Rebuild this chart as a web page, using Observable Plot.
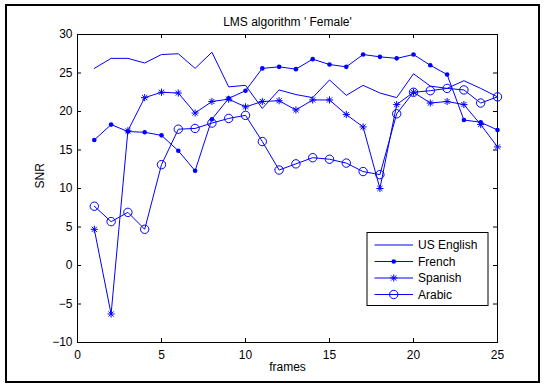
<!DOCTYPE html>
<html>
<head>
<meta charset="utf-8">
<script src="https://cdn.jsdelivr.net/npm/d3@7"></script>
<script src="https://cdn.jsdelivr.net/npm/@observablehq/plot@0.6"></script>
<style>
  html, body { margin: 0; padding: 0; background: #fff; }
  svg { display: block; }
</style>
</head>
<body>
<div id="chart"></div>
<script>
// SNR per frame for each language (LMS algorithm, female speaker)
const frames = [1, 2, 3, 4, 5, 6, 7, 8, 9, 10, 11, 12, 13, 14, 15, 16, 17, 18, 19, 20, 21, 22, 23, 24, 25];
const usEnglish = [25.6, 26.9, 26.9, 26.3, 27.4, 27.5, 25.6, 27.7, 23.2, 23.4, 20.4, 22.8, 22.2, 21.8, 24.1, 22.1, 23.4, 22.4, 21.8, 24.9, 23.3, 23.0, 24.0, 23.0, 21.9];
const french    = [16.3, 18.3, 17.4, 17.3, 16.9, 14.9, 12.3, 19.0, 21.7, 22.7, 25.6, 25.8, 25.5, 26.8, 26.1, 25.8, 27.4, 27.1, 26.9, 27.4, 26.0, 24.8, 18.9, 18.6, 17.6];
const spanish   = [4.7, -6.3, 17.5, 21.8, 22.5, 22.4, 19.8, 21.3, 21.6, 20.6, 21.3, 21.4, 20.2, 21.5, 21.5, 19.6, 18.0, 10.0, 20.9, 22.5, 21.1, 21.3, 20.9, 18.3, 15.4];
const arabic    = [7.7, 5.7, 6.9, 4.7, 13.1, 17.7, 17.8, 18.5, 19.1, 19.5, 16.1, 12.4, 13.2, 14.0, 13.8, 13.3, 12.2, 11.8, 19.7, 22.5, 22.7, 23.0, 22.8, 21.1, 21.9];

const seriesNames = ["US English", "French", "Spanish", "Arabic"];
const seriesValues = [usEnglish, french, spanish, arabic];

const xTicks = [0, 5, 10, 15, 20, 25];
const yTicks = [-10, -5, 0, 5, 10, 15, 20, 25, 30];

const titleText = "LMS algorithm ' Female'";
const xLabel = "frames";
const yLabel = "SNR";

const rows = seriesNames.flatMap((name, i) =>
  frames.map((f, j) => ({series: name, frame: f, snr: seriesValues[i][j]}))
);
const bySeries = name => rows.filter(d => d.series === name);

const blue = "#0000ff";

// asterisk marker: plus and cross overlaid
const asterisk = {
  draw(context, size) {
    const a = Math.sqrt(size / Math.PI);
    const d = a * Math.SQRT1_2;
    context.moveTo(-a, 0); context.lineTo(a, 0);
    context.moveTo(0, -a); context.lineTo(0, a);
    context.moveTo(-d, -d); context.lineTo(d, d);
    context.moveTo(-d, d); context.lineTo(d, -d);
  }
};

const W = 545, H = 385;
const mL = 77, mR = 48, mT = 34, mB = 43;
const innerW = W - mL - mR, innerH = H - mT - mB;
const tickLen = 4;

const chart = Plot.plot({
  width: W,
  height: H,
  marginLeft: mL,
  marginRight: mR,
  marginTop: mT,
  marginBottom: mB,
  style: {fontFamily: "Arial, 'Liberation Sans', sans-serif", fontSize: "12px", color: "black", background: "white"},
  x: {domain: [0, 25]},
  y: {domain: [-10, 30]},
  marks: [
    Plot.frame({stroke: "black"}),
    // inward tick marks on all four sides
    Plot.ruleX(xTicks, {x: d => d, insetTop: innerH - tickLen, stroke: "black"}),
    Plot.ruleX(xTicks, {x: d => d, insetBottom: innerH - tickLen, stroke: "black"}),
    Plot.ruleY(yTicks, {y: d => d, insetRight: innerW - tickLen, stroke: "black"}),
    Plot.ruleY(yTicks, {y: d => d, insetLeft: innerW - tickLen, stroke: "black"}),
    Plot.axisX(xTicks, {tickSize: 0, tickPadding: 8, label: null}),
    Plot.axisY(yTicks, {tickSize: 0, tickPadding: 5, label: null}),
    // series
    Plot.line(rows, {x: "frame", y: "snr", z: "series", stroke: blue, strokeWidth: 1}),
    Plot.dot(bySeries("French"), {x: "frame", y: "snr", r: 2.3, fill: blue, stroke: null}),
    Plot.dot(bySeries("Spanish"), {x: "frame", y: "snr", r: 3.6, symbol: asterisk, stroke: blue, fill: "none", strokeWidth: 1}),
    Plot.dot(bySeries("Arabic"), {x: "frame", y: "snr", r: 4.2, stroke: blue, fill: "none", strokeWidth: 1}),
    // title and axis labels
    Plot.text([titleText], {frameAnchor: "top", lineAnchor: "middle", dy: -12.5, fontSize: 12}),
    Plot.text([xLabel], {frameAnchor: "bottom", lineAnchor: "middle", dy: 25, fontSize: 12}),
    Plot.text([yLabel], {frameAnchor: "left", dx: -37, rotate: -90, fontSize: 12})
  ]
});

document.getElementById("chart").appendChild(chart);

const svg = d3.select(chart);

// figure border
svg.append("rect")
  .attr("x", 6).attr("y", 5)
  .attr("width", W - 12).attr("height", H - 8)
  .attr("fill", "none").attr("stroke", "black").attr("stroke-width", 2);

// legend box, anchored to the lower right of the axes
const lgW = 121, lgH = 73;
const lgX = mL + innerW - 9.5 - lgW + 0.5;
const lgY = mT + innerH - 37 - lgH + 0.5;
const lg = svg.append("g").attr("transform", `translate(${lgX},${lgY})`);
lg.append("rect").attr("width", lgW).attr("height", lgH)
  .attr("fill", "white").attr("stroke", "black").attr("stroke-width", 1);
const rowY = [12.5, 29, 45.5, 62];
const sx0 = 7.5, sx1 = 46, sxm = (sx0 + sx1) / 2, tx = 51;
seriesNames.forEach((name, i) => {
  const y = rowY[i];
  const g = lg.append("g").attr("transform", `translate(0,${y})`);
  g.append("line").attr("x1", sx0).attr("x2", sx1).attr("y1", 0).attr("y2", 0)
    .attr("stroke", blue).attr("stroke-width", 1);
  if (name === "French") {
    g.append("circle").attr("cx", sxm).attr("r", 2.3).attr("fill", blue);
  } else if (name === "Spanish") {
    g.append("path").attr("transform", `translate(${sxm},0)`)
      .attr("d", d3.symbol(asterisk, 3.6 * 3.6 * Math.PI)())
      .attr("stroke", blue).attr("fill", "none");
  } else if (name === "Arabic") {
    g.append("circle").attr("cx", sxm).attr("r", 4.2).attr("fill", "none").attr("stroke", blue);
  }
  g.append("text").attr("x", tx).attr("y", 4.3)
    .attr("text-anchor", "start")
    .attr("font-family", "Arial, 'Liberation Sans', sans-serif").attr("font-size", 12)
    .attr("fill", "black").text(name);
});
</script>
</body>
</html>
